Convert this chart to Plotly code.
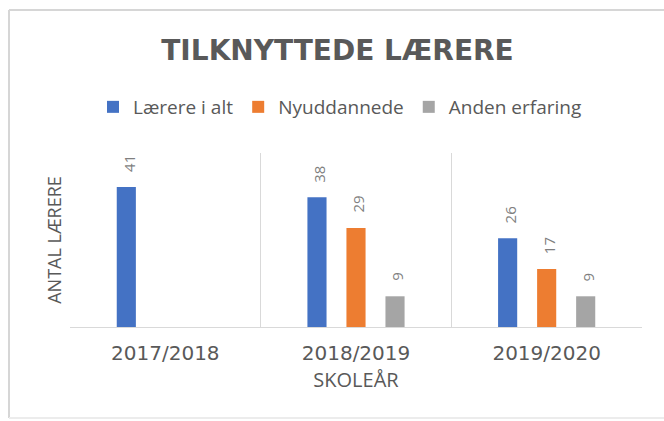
import plotly.graph_objects as go

categories = ["2017/2018", "2018/2019", "2019/2020"]
laerere_i_alt = [41, 38, 26]
nyuddannede = [None, 29, 17]
anden_erfaring = [None, 9, 9]
series_names = ["Lærere i alt", "Nyuddannede", "Anden erfaring"]
series_colors = ["#4472C4", "#ED7D31", "#A5A5A5"]
series_values = [laerere_i_alt, nyuddannede, anden_erfaring]

W, H = 664, 421
L, R, T, B = 70, 22, 153, 94
BARGAP = 0.386
BARGROUPGAP = 0.51

fig = go.Figure()
for name, vals, col in zip(series_names, series_values, series_colors):
    fig.add_trace(go.Bar(
        x=categories, y=vals, name=name, marker=dict(color=col, line=dict(width=0)),
    ))

def px_to_paper_x(px):
    return (px - L) / (W - L - R)

def px_to_paper_y(py):
    return (H - B - py) / (H - T - B)

# data labels above each bar, following plotly's grouped layout
cat_px = (W - L - R) / len(categories)
slot_px = (1 - BARGAP) * cat_px / len(series_values)
annotations = []
for i, vals in enumerate(series_values):
    shift = (i - (len(series_values) - 1) / 2) * slot_px
    for c, v in zip(categories, vals):
        if v is None:
            continue
        annotations.append(dict(
            x=c, y=v, xref="x", yref="y", text=str(v), showarrow=False,
            textangle=-90, xanchor="center", yanchor="bottom",
            xshift=shift + 2, yshift=13,
            font=dict(family="Open Sans", size=15, color="#7f7f7f"),
        ))

frame_line = dict(color="#d6d6d6", width=2)
fx0, fx1 = px_to_paper_x(9), px_to_paper_x(664)
fy0, fy1 = px_to_paper_y(418), px_to_paper_y(10)

fig.update_layout(
    width=W, height=H,
    margin=dict(l=L, r=R, t=T, b=B, pad=0),
    paper_bgcolor="white", plot_bgcolor="white",
    barmode="group", bargap=BARGAP, bargroupgap=BARGROUPGAP,
    font=dict(family="Open Sans", color="#595959"),
    title=dict(text="<b>TILKNYTTEDE LÆRERE</b>", x=337.5 / W, xanchor="center",
               y=1 - 50 / H, yanchor="middle",
               font=dict(family="DejaVu Sans", size=28, color="#595959")),
    legend=dict(orientation="h", x=px_to_paper_x(340), xanchor="center",
                y=px_to_paper_y(107), yanchor="middle",
                font=dict(family="Open Sans", size=19, color="#595959"),
                itemwidth=30, traceorder="normal"),
    showlegend=True,
    xaxis=dict(type="category", tickson="boundaries", showgrid=True, gridcolor="#d9d9d9", gridwidth=1,
               showline=True, linecolor="#d9d9d9", linewidth=1, ticks="",
               tickfont=dict(family="DejaVu Sans", size=20, color="#595959"),
               ticklabelstandoff=8,
               title=dict(text="SKOLEÅR", standoff=8, font=dict(family="Open Sans", size=20, color="#595959"))),
    yaxis=dict(range=[0, 51], showgrid=False, showticklabels=False, zeroline=False, showline=False, ticks="",
               title=dict(text="ANTAL LÆRERE", standoff=2, font=dict(family="Open Sans", size=18, color="#595959"))),
    annotations=annotations,
    shapes=[
        dict(type="line", xref="paper", yref="paper", x0=fx0, x1=fx0, y0=fy0, y1=fy1, line=frame_line, layer="below"),
        dict(type="line", xref="paper", yref="paper", x0=fx0, x1=fx1, y0=fy1, y1=fy1, line=frame_line, layer="below"),
        dict(type="line", xref="paper", yref="paper", x0=fx0, x1=fx1, y0=fy0, y1=fy0, line=dict(color="#ececec", width=2), layer="below"),
    ],
)

fig.write_html("out.html")
